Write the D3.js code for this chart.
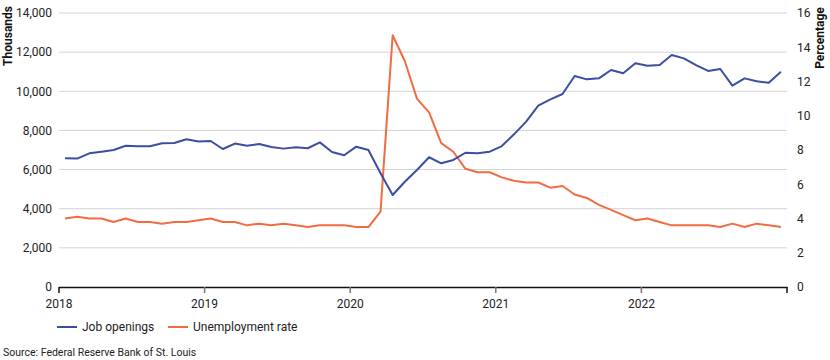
<!DOCTYPE html>
<html>
<head>
<meta charset="utf-8">
<script src="https://cdn.jsdelivr.net/npm/d3@7"></script>
<style>
  body { margin: 0; background: #fff; }
  svg { font-family: Roboto, "Noto Sans", sans-serif; }
</style>
</head>
<body>
<svg id="chart" width="830" height="360"></svg>
<script>
// ---- Data ----
const months = d3.range(60).map(i => new Date(2018 + Math.floor(i / 12), i % 12, 1));
const yearLabels = ["2018", "2019", "2020", "2021", "2022"];
const jobOpenings = [
  6575, 6560, 6830, 6915, 7000, 7220, 7190, 7190, 7340, 7360, 7550, 7430,
  7460, 7050, 7330, 7220, 7310, 7150, 7070, 7140, 7090, 7390, 6900, 6730,
  7170, 7000, 5810, 4700, 5380, 5980, 6630, 6320, 6490, 6860, 6830, 6915,
  7200, 7800, 8450, 9270, 9590, 9860, 10780, 10610, 10660, 11090, 10920, 11430,
  11310, 11340, 11850, 11680, 11340, 11040, 11140, 10290, 10660, 10510, 10440, 11000
];
const unemploymentRate = [
  4.0, 4.1, 4.0, 4.0, 3.8, 4.0, 3.8, 3.8, 3.7, 3.8, 3.8, 3.9,
  4.0, 3.8, 3.8, 3.6, 3.7, 3.6, 3.7, 3.6, 3.5, 3.6, 3.6, 3.6,
  3.5, 3.5, 4.4, 14.7, 13.2, 11.0, 10.2, 8.4, 7.9, 6.9, 6.7, 6.7,
  6.4, 6.2, 6.1, 6.1, 5.8, 5.9, 5.4, 5.2, 4.8, 4.5, 4.2, 3.9,
  4.0, 3.8, 3.6, 3.6, 3.6, 3.6, 3.5, 3.7, 3.5, 3.7, 3.6, 3.5
];
const leftTicks = [0, 2000, 4000, 6000, 8000, 10000, 12000, 14000];
const rightTicks = [0, 2, 4, 6, 8, 10, 12, 14, 16];
const seriesNames = ["Job openings", "Unemployment rate"];
const colors = ["#3b4ea1", "#f26c43"];

// ---- Layout ----
const svg = d3.select("#chart");
const L = 59, R = 787, T = 13, B = 287;

const x = d3.scaleBand().domain(d3.range(60)).range([L, R]).paddingInner(0).paddingOuter(0);
const yL = d3.scaleLinear().domain([0, 14000]).range([B, T]);
const yR = d3.scaleLinear().domain([0, 16]).range([B, T]);
const cx = i => x(i) + x.bandwidth() / 2;

// gridlines
svg.append("g").selectAll("line").data(leftTicks.filter(d => d > 0)).join("line")
  .attr("x1", L).attr("x2", R)
  .attr("y1", d => yL(d)).attr("y2", d => yL(d))
  .attr("stroke", "#d4d4d4").attr("stroke-width", 1);

// left axis
const gL = svg.append("g").attr("transform", `translate(${L},0)`)
  .call(d3.axisLeft(yL).tickValues(leftTicks).tickSize(0).tickPadding(7).tickFormat(d3.format(",")));
gL.select(".domain").remove();
gL.selectAll("text").attr("font-size", 12).attr("fill", "#222").attr("font-family", "Roboto, sans-serif");

// right axis
const gR = svg.append("g").attr("transform", `translate(${R},0)`)
  .call(d3.axisRight(yR).tickValues(rightTicks).tickSize(0).tickPadding(10));
gR.select(".domain").remove();
gR.selectAll("text").attr("font-size", 12).attr("fill", "#222").attr("font-family", "Roboto, sans-serif");

// bottom axis
const yearIdx = [0, 12, 24, 36, 48];
const gB = svg.append("g").attr("transform", `translate(0,${B})`);
gB.append("line").attr("x1", L).attr("x2", R + 0.5).attr("y1", 0.5).attr("y2", 0.5)
  .attr("stroke", "#111").attr("stroke-width", 1.5);
gB.selectAll("line.tick").data(yearIdx.concat([60])).join("line").attr("class", "tick")
  .attr("x1", d => d === 60 ? R : x(d)).attr("x2", d => d === 60 ? R : x(d))
  .attr("y1", 0).attr("y2", 6)
  .attr("stroke", d => (d === 0 || d === 60) ? "#111" : "#777").attr("stroke-width", 1.5);
gB.selectAll("text").data(yearIdx).join("text")
  .attr("x", d => x(d)).attr("y", 21)
  .attr("text-anchor", "middle").attr("font-size", 12).attr("fill", "#222")
  .text((d, i) => yearLabels[i]);

// axis titles
svg.append("text").attr("transform", `translate(12,36) rotate(-90)`)
  .attr("text-anchor", "middle").attr("font-size", 12).attr("font-weight", "bold").attr("fill", "#111")
  .text("Thousands");
svg.append("text").attr("transform", `translate(824,38) rotate(-90)`)
  .attr("text-anchor", "middle").attr("font-size", 12).attr("font-weight", "bold").attr("fill", "#111")
  .text("Percentage");

// lines
const lineL = d3.line().x((d, i) => cx(i)).y(d => yL(d));
const lineR = d3.line().x((d, i) => cx(i)).y(d => yR(d));
svg.append("path").datum(unemploymentRate).attr("d", lineR)
  .attr("fill", "none").attr("stroke", colors[1]).attr("stroke-width", 2).attr("stroke-linejoin", "round");
svg.append("path").datum(jobOpenings).attr("d", lineL)
  .attr("fill", "none").attr("stroke", colors[0]).attr("stroke-width", 2).attr("stroke-linejoin", "round");

// legend
const legendX = [57, 168];
const leg = svg.append("g").selectAll("g").data(seriesNames).join("g")
  .attr("transform", (d, i) => `translate(${legendX[i]},327)`);
leg.append("line").attr("x1", 0).attr("x2", 20).attr("y1", 0).attr("y2", 0)
  .attr("stroke", (d, i) => colors[i]).attr("stroke-width", 2);
leg.append("text").attr("x", 25).attr("y", 4).attr("font-size", 12).attr("fill", "#222").text(d => d);

// source
svg.append("text").attr("x", 3).attr("y", 356).attr("font-size", 10.5).attr("fill", "#222")
  .text("Source: Federal Reserve Bank of St. Louis");
</script>
</body>
</html>
